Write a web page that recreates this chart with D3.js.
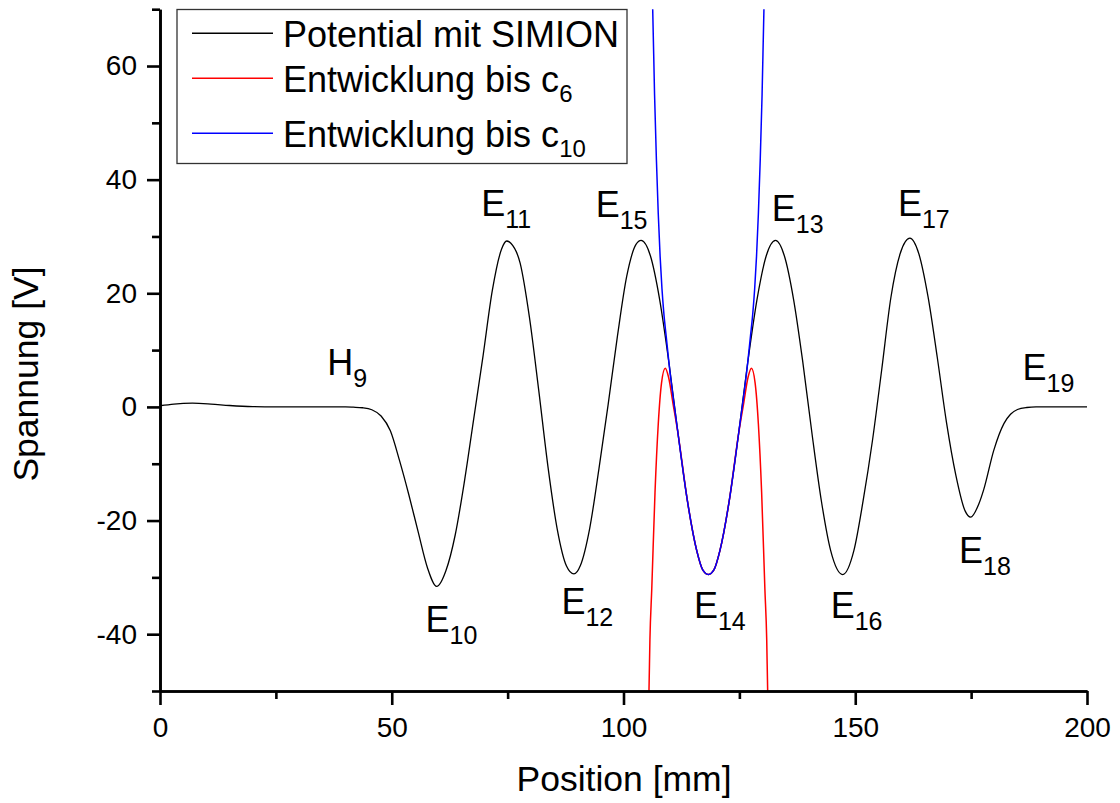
<!DOCTYPE html>
<html>
<head>
<meta charset="utf-8">
<script src="https://cdn.jsdelivr.net/npm/d3@7"></script>
<style>
  html, body { margin: 0; padding: 0; background: #fff; }
  svg { display: block; font-family: "Liberation Sans", Arial, sans-serif; }
</style>
</head>
<body>
<svg id="chart" width="1120" height="803"></svg>
<script>
// Potential along the axis (SIMION) and the two series expansions
const simionX = [0, 3, 7, 11, 15, 20, 25, 30, 35, 40, 41.7, 43.7, 45.7, 47.7, 49.7, 51.7, 53.7, 55.7, 57.7, 59.7,
  61.7, 63.7, 65.7, 67.7, 69.7, 71.7, 73.7, 74.8, 75.7, 77.7, 79.7, 81.7, 83.7, 85.7, 87.7, 89.3,
  90.7, 92.7, 94.7, 96.7, 98.7, 100.7, 102.7, 103.8,
  105.8, 107.8, 109.8, 111.8, 113.8, 115.8, 117.1, 118.3, 119.5, 120.8, 122.8, 124.8, 126.8, 128.8, 130.8, 132.8,
  134.7, 136.7, 138.7, 140.7, 142.7, 144.7, 147.3,
  149.7, 151.7, 153.7, 155.7, 157.7, 159.7, 161.8,
  163.7, 165.7, 167.7, 169.7, 171.7, 173.7, 174.9, 176.7, 177.7, 179.9, 182.1, 183.5, 185, 187, 189, 195, 200];
const simionV = [0.2, 0.5, 0.65, 0.5, 0.25, 0.05, 0.0, 0.0, 0.0, 0.0, -0.05, -0.15, -0.5, -1.6, -4.2, -9.5, -15.5, -22.0, -28.3, -31.6,
  -28.8, -22.5, -13.0, -2.0, 9.0, 20.5, 27.8, 29.2, 28.8, 25.3, 15.8, 3.0, -10.5, -21.5, -28.0, -29.4,
  -27.9, -21.4, -10.9, 0.5, 12.5, 23.0, 28.6, 29.3,
  26.6, 18.9, 7.8, -4.9, -16.6, -25.3, -28.7, -29.5, -28.7, -25.3, -16.6, -4.9, 7.8, 18.9, 26.6, 29.3,
  26.6, 18.9, 7.8, -4.9, -16.6, -25.3, -29.5,
  -25.3, -16.5, -6.0, 6.5, 19.3, 27.0, 29.7,
  27.0, 19.4, 8.7, -2.8, -12.0, -18.3, -19.4, -17.0, -14.6, -7.6, -2.9, -1.3, -0.45, -0.1, 0.0, 0.0, 0.0];

const c6X = [105.3, 105.5, 105.7, 106.1, 106.8, 107.5, 108.2, 109.0, 109.7, 110.7, 111.8, 113.8, 115.8, 117.1, 118.3,
  119.5, 120.8, 122.8, 124.8, 125.9, 126.9, 127.6, 128.4, 129.1, 129.8, 130.5, 130.9, 131.1, 131.3];
const c6V = [-55, -49.8, -41, -32, -15, -3, 4.2, 6.8, 5.3, 0.5, -4.9, -16.6, -25.3, -28.7, -29.5,
  -28.7, -25.3, -16.6, -4.9, 0.5, 5.3, 6.8, 4.2, -3, -15, -32, -41, -49.8, -55];

const c10X = [106.2, 106.3, 106.7, 107.1, 107.5, 107.9, 108.3, 108.7, 109.2, 109.8, 111.8, 113.8, 115.8, 117.1, 118.3,
  119.5, 120.8, 122.8, 124.8, 126.8, 127.4, 127.9, 128.3, 128.7, 129.1, 129.5, 129.9, 130.3, 130.4];
const c10V = [73, 70, 55, 43.5, 34, 26.5, 20.8, 16.5, 12.5, 7.8, -4.9, -16.6, -25.3, -28.7, -29.5,
  -28.7, -25.3, -16.6, -4.9, 7.8, 12.5, 16.5, 20.8, 26.5, 34, 43.5, 55, 70, 73];

// Electrode labels: name, subscript, anchor (mm, V)
const labelNames = ["H", "E", "E", "E", "E", "E", "E", "E", "E", "E", "E"];
const labelSubs  = ["9", "10", "11", "15", "12", "14", "13", "16", "17", "18", "19"];
const labelX     = [36.1, 57.3, 69.3, 94.0, 86.6, 115.2, 132.0, 144.7, 159.2, 172.4, 186.1];
const labelV     = [5.6, -39.6, 33.6, 33.5, -36.4, -37.2, 32.7, -37.1, 33.6, -27.5, 4.75];

const xMajor = [0, 50, 100, 150, 200];
const xMinor = [25, 75, 125, 175];
const yMajor = [-40, -20, 0, 20, 40, 60];
const yMinor = [-50, -30, -10, 10, 30, 50, 70];

const legendNames = ["Potential mit SIMION", "Entwicklung bis c", "Entwicklung bis c"];
const legendSubs  = ["", "6", "10"];
const seriesColors = ["#000000", "#ff0000", "#0000ff"];

const svg = d3.select("#chart");
const plot = { left: 160, right: 1087, top: 9.2, bottom: 691 };

const x = d3.scaleLinear().domain([0, 200]).range([plot.left, plot.right]);
const y = d3.scaleLinear().domain([-50, 70]).range([plot.bottom, plot.top]);

svg.append("defs").append("clipPath").attr("id", "plotClip")
  .append("rect")
  .attr("x", plot.left).attr("y", plot.top)
  .attr("width", plot.right - plot.left).attr("height", plot.bottom - plot.top);

const line = d3.line()
  .x(d => x(d[0])).y(d => y(d[1]))
  .curve(d3.curveMonotoneX);

const series = [
  d3.zip(simionX, simionV),
  d3.zip(c6X, c6V),
  d3.zip(c10X, c10V)
];
const widths = [1.3, 1.5, 1.5];

const curves = svg.append("g").attr("clip-path", "url(#plotClip)");
series.forEach((pts, i) => {
  curves.append("path")
    .datum(pts)
    .attr("d", line)
    .attr("fill", "none")
    .attr("stroke", seriesColors[i])
    .attr("stroke-width", widths[i])
    .attr("stroke-linejoin", "round");
});

// Axes
function styleAxis(g) {
  g.selectAll(".domain").attr("stroke", "#000").attr("stroke-width", 2.6);
  g.selectAll(".tick line").attr("stroke", "#000").attr("stroke-width", 2.6);
  g.selectAll(".tick text").attr("fill", "#000").style("font-family", "'Liberation Sans', Arial, sans-serif");
}

const xAxisMinor = svg.append("g").attr("transform", `translate(0,${plot.bottom})`)
  .call(d3.axisBottom(x).tickValues(xMinor).tickSize(8).tickSizeOuter(0).tickFormat(""));
const xAxisMajor = svg.append("g").attr("transform", `translate(0,${plot.bottom})`)
  .call(d3.axisBottom(x).tickValues(xMajor).tickSize(14).tickSizeOuter(0).tickPadding(12)
    .tickFormat(d => String(d)));
xAxisMajor.selectAll(".tick text").attr("font-size", 28).attr("dy", "0.71em");
[xAxisMinor, xAxisMajor].forEach(styleAxis);

const yAxisMinor = svg.append("g").attr("transform", `translate(${plot.left},0)`)
  .call(d3.axisLeft(y).tickValues(yMinor).tickSize(8).tickSizeOuter(0).tickFormat(""));
const yAxisMajor = svg.append("g").attr("transform", `translate(${plot.left},0)`)
  .call(d3.axisLeft(y).tickValues(yMajor).tickSize(13).tickSizeOuter(0).tickPadding(10)
    .tickFormat(d => String(d)));
yAxisMajor.selectAll(".tick text").attr("font-size", 28);
[yAxisMinor, yAxisMajor].forEach(styleAxis);

// Axis titles
svg.append("text")
  .attr("x", 624)
  .attr("y", 791)
  .attr("text-anchor", "middle")
  .attr("font-size", 35.5)
  .text("Position [mm]");

svg.append("text")
  .attr("transform", "translate(38,374) rotate(-90)")
  .attr("text-anchor", "middle")
  .attr("font-size", 35.5)
  .text("Spannung [V]");

// Electrode labels
const labels = svg.append("g");
labelNames.forEach((name, i) => {
  const t = labels.append("text")
    .attr("x", x(labelX[i]))
    .attr("y", y(labelV[i]))
    .attr("font-size", 36);
  t.append("tspan").text(name);
  t.append("tspan").attr("dy", 12).attr("font-size", 25).text(labelSubs[i]);
});

// Legend
const legend = svg.append("g");
legend.append("rect")
  .attr("x", 177).attr("y", 9.5)
  .attr("width", 450).attr("height", 154)
  .attr("fill", "#fff")
  .attr("stroke", "#333").attr("stroke-width", 1.3);

const legendLineY = [33.3, 78.3, 133.3];
const legendTextY = [46.7, 91.7, 146.7];
legendNames.forEach((name, i) => {
  legend.append("line")
    .attr("x1", 192).attr("x2", 273)
    .attr("y1", legendLineY[i]).attr("y2", legendLineY[i])
    .attr("stroke", seriesColors[i]).attr("stroke-width", 1.5);
  const t = legend.append("text")
    .attr("x", 283).attr("y", legendTextY[i])
    .attr("font-size", 36);
  t.append("tspan").text(name);
  if (legendSubs[i]) {
    t.append("tspan").attr("dy", 10).attr("font-size", 24).text(legendSubs[i]);
  }
});
</script>
</body>
</html>
